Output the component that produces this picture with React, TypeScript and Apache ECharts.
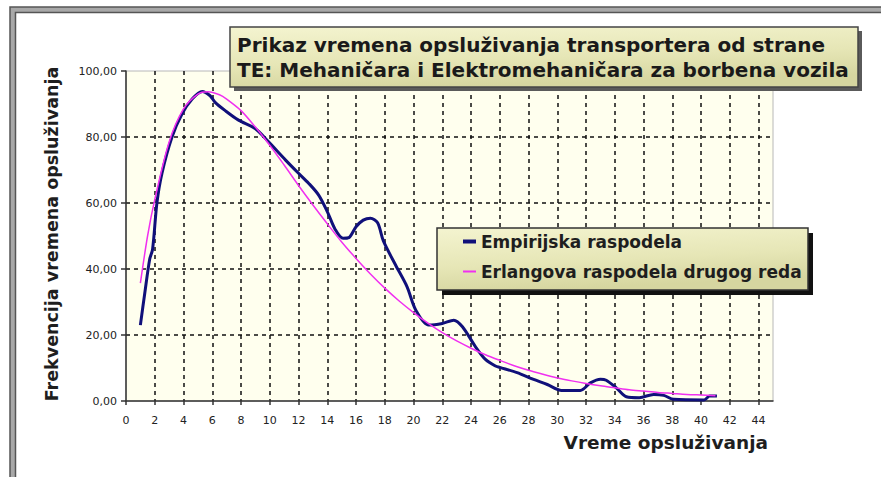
import React, { useEffect, useRef } from 'react';
import * as echarts from 'echarts';

const W = 881;
const H = 477;

const titleLines = [
  'Prikaz vremena opsluživanja transportera od strane',
  'TE: Mehaničara i Elektromehaničara za borbena vozila',
];
const xAxisName = 'Vreme opsluživanja';
const yAxisName = 'Frekvencija vremena opsluživanja';
const seriesNames = ['Empirijska raspodela', 'Erlangova raspodela drugog reda'];

const empiricalX = [1.0, 1.3, 1.65, 1.85, 2.15, 2.5, 3.2, 3.9, 4.6, 5.3, 5.85, 6.2, 6.9, 7.8, 9.0, 9.9, 11.1, 12.0, 12.7, 13.4, 14.0, 14.55, 15.1, 15.5, 16.0, 16.5, 17.0, 17.5, 17.9, 18.75, 19.55, 20.15, 21.05, 22.0, 22.8, 23.4, 24.3, 25.0, 25.7, 26.0, 27.2, 28.3, 29.3, 30.3, 31.6, 32.3, 33.0, 33.4, 34.1, 34.8, 35.7, 36.7, 37.4, 38.1, 40.2, 40.6, 41.1];
const empiricalY = [23, 32.5, 43, 46, 60, 69, 80, 87, 91.5, 93.8, 92.5, 90.5, 88, 85.2, 82.5, 78.6, 73, 69, 66, 62.4, 57.4, 52, 49.3, 49.5, 52.8, 54.8, 55.4, 54, 48.5, 41.2, 34.6, 27.6, 23, 23.5, 24.5, 22.5, 16.5, 12.6, 10.6, 10.2, 8.6, 6.6, 5, 3.2, 3.2, 5.5, 6.6, 6.3, 4, 1.3, 1, 2, 1.7, 0.5, 0.3, 1.5, 1.5];

const erlangX = [1, 1.5, 2, 3, 4, 5, 5.7, 6.5, 7, 8, 9, 10, 11, 12, 13, 14, 15, 16, 17, 18, 19, 20, 21, 22, 23, 24, 25, 26, 27, 28, 29, 30, 31, 32, 33, 34, 35, 36, 37, 38, 39, 40, 41];
const erlangY = [35.7, 50, 61, 78.5, 88.5, 93, 93.7, 92.8, 91.5, 88, 83, 77.5, 71.5, 65.3, 59.4, 53.7, 48.2, 43.2, 38.5, 34.2, 30.3, 26.8, 23.6, 20.7, 18.2, 16, 14, 12.3, 10.7, 9.3, 8.1, 7, 6.1, 5.3, 4.6, 4, 3.4, 3, 2.6, 2.3, 2, 1.8, 1.6];

export default function App() {
  const ref = useRef<HTMLDivElement>(null);

  useEffect(() => {
    if (!ref.current) return;
    const chart = echarts.init(ref.current, undefined, { renderer: 'svg', width: W, height: H });
    const boxFill = () =>
      new echarts.graphic.LinearGradient(0, 0, 0.3, 1, [
        { offset: 0, color: '#F4F4D0' },
        { offset: 0.6, color: '#E6E6B6' },
        { offset: 1, color: '#D6D6A0' },
      ]);
    const font = '"DejaVu Sans", Verdana, sans-serif';
    const legendText = { fontFamily: font, fontWeight: 'bold' as const, fontSize: 17, color: '#1e1e1e' };

    chart.setOption({
      animation: false,
      backgroundColor: '#ffffff',
      grid: {
        left: 126,
        right: 108,
        top: 71,
        bottom: 76,
        show: true,
        backgroundColor: '#FFFFEE',
        borderColor: '#b8b8b8',
        borderWidth: 1,
      },
      xAxis: {
        type: 'value',
        min: 0,
        max: 45,
        interval: 2,
        axisLine: { show: true, onZero: false, lineStyle: { color: '#333', width: 1.5 } },
        axisTick: { show: true, length: 4, lineStyle: { color: '#333', width: 1.5 } },
        axisLabel: { showMaxLabel: false, margin: 14, color: '#222', fontFamily: font, fontSize: 11 },
        splitLine: {
          show: true,
          showMinLine: false,
          showMaxLine: false,
          lineStyle: { color: '#111', type: [4, 4], width: 1.5 },
        },
      },
      yAxis: {
        type: 'value',
        min: 0,
        max: 100,
        interval: 20,
        axisLine: { show: true, lineStyle: { color: '#333', width: 1.5 } },
        axisTick: { show: true, length: 5, lineStyle: { color: '#333', width: 1.5 } },
        axisLabel: {
          margin: 9,
          color: '#222',
          fontFamily: font,
          fontSize: 11,
          formatter: (v: number) => v.toFixed(2).replace('.', ','),
        },
        splitLine: {
          show: true,
          showMinLine: false,
          showMaxLine: false,
          lineStyle: { color: '#111', type: [4, 4], width: 1.5 },
        },
      },
      legend: [
        {
          data: [{ name: seriesNames[0], icon: 'rect' }],
          left: 463,
          top: 233,
          z: 20,
          itemWidth: 13,
          itemHeight: 4,
          itemGap: 0,
          padding: 0,
          textStyle: legendText,
        },
        {
          data: [{ name: seriesNames[1], icon: 'rect' }],
          left: 463,
          top: 263,
          z: 20,
          itemWidth: 13,
          itemHeight: 2,
          itemGap: 0,
          padding: 0,
          textStyle: legendText,
        },
      ],
      series: [
        {
          type: 'line',
          name: seriesNames[0],
          data: empiricalX.map((x, i) => [x, empiricalY[i]]),
          symbol: 'none',
          showSymbol: false,
          smooth: 0.3,
          lineStyle: { color: '#10107A', width: 3 },
          itemStyle: { color: '#10107A' },
          z: 3,
        },
        {
          type: 'line',
          name: seriesNames[1],
          data: erlangX.map((x, i) => [x, erlangY[i]]),
          symbol: 'none',
          showSymbol: false,
          smooth: 0.3,
          lineStyle: { color: '#F030F0', width: 1.5 },
          itemStyle: { color: '#F030F0' },
          z: 4,
        },
      ],
      graphic: [
        { type: 'rect', z: 1, shape: { x: 12.5, y: 9.5, width: 900, height: 500 }, style: { fill: 'none', stroke: '#a8a8a8', lineWidth: 5 } },
        { type: 'rect', z: 1, shape: { x: 10, y: 7, width: 900, height: 500 }, style: { fill: 'none', stroke: '#555', lineWidth: 1.5 } },
        { type: 'rect', z: 1, shape: { x: 15.5, y: 12.5, width: 900, height: 500 }, style: { fill: 'none', stroke: '#555', lineWidth: 1.5 } },
        { type: 'rect', z: 10, shape: { x: 234, y: 31, width: 628, height: 60 }, style: { fill: '#5a5a5a' } },
        { type: 'rect', z: 11, shape: { x: 230, y: 27, width: 628, height: 60 }, style: { fill: boxFill(), stroke: '#444', lineWidth: 1.5 } },
        {
          type: 'text',
          z: 12,
          x: 237,
          y: 32,
          style: {
            text: titleLines.join('\n'),
            font: `bold 20px ${font}`,
            fill: '#1a1a1a',
            lineHeight: 25,
            align: 'left',
            verticalAlign: 'top',
          },
        },
        { type: 'rect', z: 5, shape: { x: 442, y: 233, width: 371, height: 62 }, style: { fill: '#111' } },
        { type: 'rect', z: 6, shape: { x: 437, y: 228, width: 371, height: 62 }, style: { fill: boxFill(), stroke: '#333', lineWidth: 1.5 } },
        {
          type: 'text',
          z: 12,
          x: 768,
          y: 442,
          style: { text: xAxisName, font: `bold 18.5px ${font}`, fill: '#1e1e1e', align: 'right', verticalAlign: 'middle' },
        },
        {
          type: 'text',
          z: 12,
          x: 51.5,
          y: 234,
          rotation: Math.PI / 2,
          style: { text: yAxisName, font: `bold 17.5px ${font}`, fill: '#1e1e1e', align: 'center', verticalAlign: 'middle' },
        },
      ],
    });

    return () => chart.dispose();
  }, []);

  return (
    <div
      ref={ref}
      style={{ position: 'fixed', left: 0, top: 0, width: W, height: H, background: '#fff' }}
    />
  );
}
